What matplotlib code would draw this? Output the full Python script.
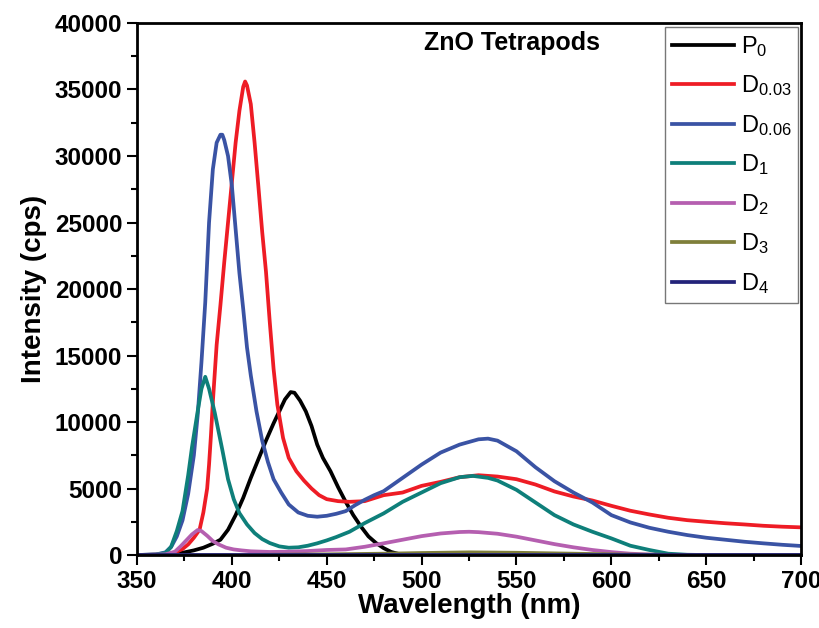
import matplotlib
matplotlib.use("Agg")
import matplotlib.pyplot as plt
from matplotlib.ticker import MultipleLocator

plt.rcParams["font.family"] = ["Liberation Sans", "DejaVu Sans"]
plt.rcParams["mathtext.fontset"] = "custom"
plt.rcParams["mathtext.rm"] = "Liberation Sans"
plt.rcParams["mathtext.default"] = "regular"

# P0 (black)
p0_wl = [350, 365, 370, 375, 380, 385, 390, 394, 398, 402, 406, 410, 414, 418, 422, 425,
         428, 431, 433, 436, 439, 442, 445, 448, 452, 456, 460, 464, 468, 472, 476, 480,
         484, 488, 492, 500, 600, 700]
p0_int = [0, 30, 100, 200, 350, 550, 850, 1150, 1900, 3000, 4300, 5800, 7200, 8600, 9900, 10800,
          11700, 12250, 12200, 11600, 10800, 9700, 8300, 7300, 6300, 5100, 4000, 3000, 2150, 1400, 900, 520,
          230, 80, 20, 0, 0, 0]

# D0.03 (red)
d003_wl = [350, 360, 365, 370, 374, 377, 380, 383, 385, 387, 388, 389, 390, 392, 394, 396,
           398, 400, 402, 404, 406, 407, 408, 410, 412, 414, 416, 418, 420, 422, 424, 427,
           430, 434, 438, 442, 446, 450, 456, 462, 470, 480, 490, 500, 510, 520, 530, 540,
           550, 560, 570, 580, 590, 600, 610, 620, 630, 640, 650, 660, 670, 680, 690, 700]
d003_int = [0, 20, 60, 200, 450, 800, 1300, 1900, 3200, 5000, 6800, 9000, 11500, 15800, 18800, 22000,
            25000, 28000, 31000, 33400, 35200, 35600, 35300, 33900, 31000, 27700, 24300, 21300, 17500, 14000, 11300, 8800,
            7300, 6300, 5600, 5000, 4500, 4200, 4050, 4000, 4050, 4500, 4700, 5200, 5500, 5850, 6000, 5900,
            5700, 5300, 4780, 4400, 4100, 3700, 3330, 3050, 2800, 2620, 2500, 2390, 2300, 2200, 2130, 2080]

# D0.06 (blue)
d006_wl = [350, 360, 365, 368, 371, 374, 377, 380, 382, 384, 386, 388, 390, 392, 394, 395,
           396, 398, 400, 402, 404, 406, 408, 410, 413, 416, 419, 422, 426, 430, 435, 440,
           445, 450, 455, 460, 465, 470, 475, 480, 490, 500, 510, 520, 530, 535, 540, 550,
           560, 570, 580, 590, 600, 610, 620, 630, 640, 650, 660, 670, 680, 690, 700]
d006_int = [0, 40, 200, 600, 1400, 2600, 4600, 7500, 10500, 14500, 19000, 25000, 29000, 31000, 31600, 31600,
            31200, 30000, 27800, 24500, 21200, 18500, 15600, 13500, 10800, 8600, 7000, 5700, 4700, 3800, 3200, 2950,
            2880, 2950, 3100, 3300, 3750, 4150, 4500, 4800, 5800, 6800, 7700, 8300, 8700, 8750, 8600, 7800,
            6600, 5550, 4700, 3950, 3000, 2450, 2050, 1750, 1500, 1300, 1150, 1000, 880, 770, 680]

# D1 (teal)
d1_wl = [350, 360, 365, 368, 371, 374, 377, 379, 382, 384, 386, 388, 391, 395, 398, 401,
         404, 408, 412, 416, 420, 425, 430, 435, 440, 445, 450, 455, 462, 470, 480, 490,
         500, 510, 520, 527, 535, 540, 550, 560, 570, 580, 590, 600, 610, 620, 630, 640,
         650, 700]
d1_int = [0, 40, 150, 620, 1800, 3300, 6000, 8100, 10800, 12500, 13400, 12500, 10700, 7900, 5700, 4200,
          3150, 2300, 1650, 1200, 900, 650, 550, 580, 700, 880, 1100, 1350, 1750, 2400, 3130, 4000,
          4700, 5400, 5850, 5950, 5800, 5600, 4900, 3950, 3000, 2300, 1750, 1250, 700, 380, 100, 20,
          0, 0]

# D2 (magenta)
d2_wl = [350, 365, 370, 373, 376, 379, 382, 384, 387, 390, 393, 397, 401, 405, 410, 420,
         430, 440, 450, 460, 470, 480, 490, 500, 510, 520, 525, 530, 540, 550, 560, 570,
         580, 590, 600, 610, 620, 630, 700]
d2_int = [0, 50, 250, 650, 1100, 1550, 1880, 1800, 1450, 1050, 800, 550, 420, 350, 280, 230,
          250, 300, 380, 420, 620, 880, 1150, 1420, 1620, 1730, 1750, 1720, 1600, 1380, 1100, 820,
          580, 380, 220, 100, 40, 0, 0]

# D3 (olive)
d3_wl = [350, 400, 450, 480, 500, 525, 550, 580, 610, 650, 700]
d3_int = [0, 0, 50, 100, 150, 200, 170, 100, 30, 0, 0]

# D4 (navy)
d4_wl = [350, 450, 550, 650, 700]
d4_int = [0, 0, 0, 0, 0]

SERIES = [
    (p0_wl, p0_int, r"$P_0$", "#000000"),
    (d003_wl, d003_int, r"$D_{0.03}$", "#ee1c25"),
    (d006_wl, d006_int, r"$D_{0.06}$", "#3a53a4"),
    (d1_wl, d1_int, r"$D_1$", "#0e7f7a"),
    (d2_wl, d2_int, r"$D_2$", "#b55fb0"),
    (d3_wl, d3_int, r"$D_3$", "#7f7f3a"),
    (d4_wl, d4_int, r"$D_4$", "#23237a"),
]

fig = plt.figure(figsize=(8.2, 6.28), dpi=100)
ax = fig.add_axes([0.167, 0.1162, 0.81, 0.8472])

for wl, inten, label, color in SERIES:
    ax.plot(wl, inten, color=color, lw=2.7, label=label, solid_joinstyle="round")

ax.set_xlim(350, 700)
ax.set_ylim(0, 40000)
ax.xaxis.set_major_locator(MultipleLocator(50))
ax.xaxis.set_minor_locator(MultipleLocator(25))
ax.yaxis.set_major_locator(MultipleLocator(5000))
ax.yaxis.set_minor_locator(MultipleLocator(2500))
ax.tick_params(which="major", direction="out", length=7, width=1.5, labelsize=17.5)
ax.tick_params(which="minor", direction="out", length=4, width=1.5)
for lbl in ax.get_xticklabels() + ax.get_yticklabels():
    lbl.set_fontweight("bold")
for sp in ax.spines.values():
    sp.set_linewidth(2)

ax.set_xlabel("Wavelength (nm)", fontsize=20, fontweight="bold", labelpad=0)
ax.set_ylabel("Intensity (cps)", fontsize=20, fontweight="bold", labelpad=6)
ax.text(0.565, 0.962, "ZnO Tetrapods", transform=ax.transAxes, fontsize=18,
        fontweight="bold", ha="center", va="center")

leg = ax.legend(loc="upper right", bbox_to_anchor=(0.996, 0.993), borderaxespad=0,
                fontsize=17, handlelength=2.6, labelspacing=0.62, frameon=True,
                fancybox=False, borderpad=0.3, handletextpad=0.3)
leg.get_frame().set_edgecolor("#555555")
leg.get_frame().set_linewidth(1)
for line in leg.get_lines():
    line.set_linewidth(2.7)

fig.savefig("out.png", dpi=100)
